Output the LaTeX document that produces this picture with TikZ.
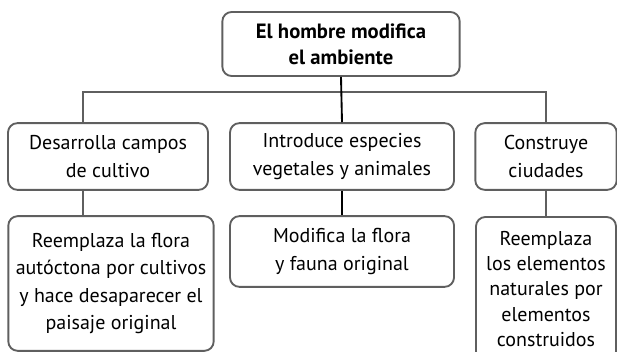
\documentclass[tikz,border=0pt]{standalone}
\usepackage{fontspec}
\setmainfont{PT Sans}
\definecolor{boxgray}{RGB}{95,95,95}
\usetikzlibrary{positioning}

\begin{document}
\begin{tikzpicture}[x=0.75pt,y=-0.75pt,
  cbox/.style={draw=boxgray,line width=1.4pt,rounded corners=7pt,align=center,
    font=\fontsize{15}{20.5}\selectfont,inner sep=2pt},
  link/.style={draw=boxgray,line width=1.4pt}
]
  \useasboundingbox (0,0) rectangle (617,352);
  % Top
  \node[cbox,minimum width=178pt,minimum height=48pt,font=\fontsize{15.5}{19.5}\selectfont\bfseries]
    (top) at (341,44) {El hombre modifica\\el ambiente};
  % Row 1
  \node[cbox,minimum width=150pt,minimum height=50pt] (a1) at (108,156.5) {Desarrolla campos\\de cultivo};
  \node[cbox,minimum width=168pt,minimum height=50pt] (a2) at (342,156.5) {Introduce especies\\vegetales y animales};
  \node[cbox,minimum width=106pt,minimum height=50pt] (a3) at (546,156.5) {Construye\\ciudades};
  % Row 2
  \node[cbox,minimum width=154pt,minimum height=101pt] (b1) at (111,283.5) {Reemplaza la flora\\aut\'octona por cultivos\\y hace desaparecer el\\paisaje original};
  \node[cbox,minimum width=168pt,minimum height=53pt] (b2) at (342,251.5) {Modifica la flora\\y fauna original};
  \node[cbox,minimum width=105pt,minimum height=108pt,font=\fontsize{15}{18.8}\selectfont] (b3) at (546,289) {Reemplaza\\los elementos\\naturales por\\elementos\\construidos};
  % Connectors
  \coordinate (jl) at (83,92);
  \coordinate (jr) at (546,92);
  \draw[link] (jl |- a1.north) -- (jl) -- (jr) -- (a3.north);
  \draw[link] (jl |- a1.south) -- (jl |- b1.north);
  \draw[link] (a3.south) -- (b3.north);
  \draw[line width=1.4pt] (top.south) -- (a2.north);
  \draw[line width=1.4pt] (a2.south) -- (b2.north);
\end{tikzpicture}
\end{document}
